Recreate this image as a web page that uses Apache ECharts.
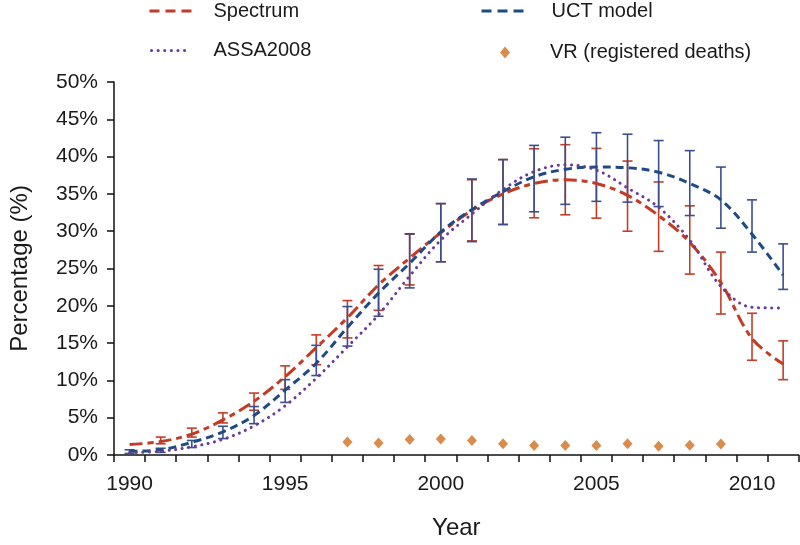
<!DOCTYPE html>
<html>
<head>
<meta charset="utf-8">
<script src="https://cdn.jsdelivr.net/npm/echarts@6/dist/echarts.min.js"></script>
<style>
html,body{margin:0;padding:0;background:#fff;}
#chart{width:800px;height:545px;}
</style>
</head>
<body>
<div id="chart"></div>
<script>
var years = ['1990','1991','1992','1993','1994','1995','1996','1997','1998','1999','2000','2001','2002','2003','2004','2005','2006','2007','2008','2009','2010','2011'];
var spectrum = [1.4, 1.8, 2.8, 4.7, 7.2, 10.5, 14.4, 18.4, 22.8, 26.4, 29.8, 32.8, 35.0, 36.4, 36.9, 36.4, 34.8, 32.1, 28.5, 23.1, 15.6, 12.2];
var uct = [0.5, 0.7, 1.7, 3.1, 5.3, 8.7, 12.3, 17.1, 21.7, 25.7, 29.9, 32.9, 35.3, 37.3, 38.3, 38.6, 38.5, 37.9, 36.4, 34.2, 29.6, 24.1];
var assa = [0.3, 0.5, 1.1, 2.1, 3.9, 6.6, 10.3, 14.5, 18.8, 24.0, 28.8, 32.3, 35.6, 38.0, 38.9, 38.2, 35.8, 33.2, 28.8, 22.6, 19.8, 19.7];
var spectrumLow = [null, 1.5, 2.4, 4.3, 6.0, 8.8, 12.1, 15.7, 19.4, 22.8, 25.9, 28.7, 30.9, 31.8, 32.2, 31.75, 30.0, 27.3, 24.25, 18.9, 12.7, 10.1];
var spectrumHigh = [null, 2.4, 3.6, 5.65, 8.3, 11.95, 16.1, 20.7, 25.4, 29.6, 33.7, 36.9, 39.6, 41.05, 41.6, 41.1, 39.4, 36.6, 33.4, 27.2, 19.0, 15.3];
var uctLow = [0.2, 0.35, 1.0, 2.2, 4.2, 7.05, 10.65, 14.6, 18.6, 22.4, 25.9, 28.6, 30.9, 32.6, 33.6, 34.0, 33.9, 33.3, 32.1, 30.4, 27.2, 22.2];
var uctHigh = [0.7, 0.9, 1.95, 3.85, 6.5, 10.1, 14.7, 19.9, 24.9, 29.65, 33.7, 37.0, 39.6, 41.5, 42.6, 43.2, 43.0, 42.15, 40.8, 38.6, 34.2, 28.3];
var vrYears = ['1997','1998','1999','2000','2001','2002','2003','2004','2005','2006','2007','2008','2009'];
var vr = [1.74, 1.6, 2.09, 2.13, 1.96, 1.52, 1.26, 1.26, 1.26, 1.52, 1.17, 1.3, 1.48];
var yTicks = [0, 5, 10, 15, 20, 25, 30, 35, 40, 45, 50];

var RED = '#c23b22', BLUE = '#1f4b85', PURPLE = '#6a3a95', ORANGE = '#cf6f1f';
var RED_BAR = '#c43d26', BLUE_BAR = '#3b4f8e';
var FONT = 'Liberation Sans';

function errData(lo, hi) {
  var out = [];
  for (var i = 0; i < years.length; i++) {
    if (lo[i] == null || hi[i] == null) continue;
    out.push([years[i], lo[i], hi[i]]);
  }
  return out;
}
function errRender(color) {
  return function (params, api) {
    var x = api.value(0);
    var p1 = api.coord([x, api.value(1)]);
    var p2 = api.coord([x, api.value(2)]);
    var hw = 5;
    var st = { stroke: color, lineWidth: 1.6 };
    return {
      type: 'group',
      children: [
        { type: 'line', shape: { x1: p1[0], y1: p1[1], x2: p2[0], y2: p2[1] }, style: st },
        { type: 'line', shape: { x1: p1[0] - hw, y1: p1[1], x2: p1[0] + hw, y2: p1[1] }, style: st },
        { type: 'line', shape: { x1: p2[0] - hw, y1: p2[1], x2: p2[0] + hw, y2: p2[1] }, style: st }
      ]
    };
  };
}
var vrData = vrYears.map(function (y, i) { return [y, vr[i]]; });

var chart = echarts.init(document.getElementById('chart'), null, { renderer: 'canvas' });
function lt(pad) { return { fontFamily: FONT, fontSize: 20, color: '#1a1a1a', padding: [0, 0, 0, pad] }; }
var hideDot = { opacity: 0 };
chart.setOption({
  animation: false,
  backgroundColor: '#fff',
  textStyle: { fontFamily: FONT },
  grid: { left: 104, right: 1.3, top: 82, bottom: 83, containLabel: false },
  legend: [
    { data: ['Spectrum'], left: 148, top: 1, padding: 0, itemWidth: 44, itemHeight: 16, itemStyle: hideDot,
      lineStyle: { width: 3, type: [10, 6], color: RED }, textStyle: lt(15) },
    { data: ['ASSA2008'], left: 150, top: 40.5, padding: 0, itemWidth: 34, itemHeight: 16, itemStyle: hideDot,
      lineStyle: { width: 3, type: [0.1, 6.5], cap: 'round', color: PURPLE }, textStyle: lt(23) },
    { data: ['UCT model'], left: 480, top: 1, padding: 0, itemWidth: 44, itemHeight: 16, itemStyle: hideDot,
      lineStyle: { width: 3, type: [10, 6], color: BLUE }, textStyle: lt(21) },
    { data: ['VR (registered deaths)'], left: 500, top: 42.5, padding: 0, itemWidth: 10, itemHeight: 12, textStyle: lt(35) }
  ],
  xAxis: {
    type: 'category',
    data: years,
    boundaryGap: true,
    name: 'Year',
    nameLocation: 'middle',
    nameGap: 61,
    nameTextStyle: { fontFamily: FONT, fontSize: 24, color: '#1a1a1a' },
    axisLine: { lineStyle: { color: '#111', width: 1.5 } },
    axisTick: { show: true, interval: 0, alignWithLabel: false, length: 7, lineStyle: { color: '#111', width: 1.5 } },
    axisLabel: {
      interval: function (index) { return index % 5 === 0; },
      fontFamily: FONT, fontSize: 21, color: '#1a1a1a', margin: 19
    },
    splitLine: { show: false }
  },
  yAxis: {
    type: 'value',
    min: yTicks[0],
    max: yTicks[yTicks.length - 1],
    interval: 5,
    name: 'Percentage (%)',
    nameLocation: 'middle',
    nameGap: 82,
    nameRotate: 90,
    nameTextStyle: { fontFamily: FONT, fontSize: 24, color: '#1a1a1a' },
    axisLine: { show: true, lineStyle: { color: '#111', width: 1.5 } },
    axisTick: { show: true, length: 7, lineStyle: { color: '#111', width: 1.5 } },
    axisLabel: { formatter: '{value}%', fontFamily: FONT, fontSize: 21, color: '#1a1a1a', margin: 16 },
    splitLine: { show: false }
  },
  series: [
    { name: 'SpectrumErr', type: 'custom', data: errData(spectrumLow, spectrumHigh), renderItem: errRender(RED_BAR), z: 1, silent: true },
    { name: 'UCTErr', type: 'custom', data: errData(uctLow, uctHigh), renderItem: errRender(BLUE_BAR), z: 1, silent: true },
    { name: 'Spectrum', type: 'line', data: spectrum, smooth: 0.35, symbol: 'none', z: 3,
      itemStyle: { color: RED },
      lineStyle: { color: RED, width: 3, type: [13, 5, 6, 5] } },
    { name: 'UCT model', type: 'line', data: uct, smooth: 0.35, symbol: 'none', z: 3,
      itemStyle: { color: BLUE },
      lineStyle: { color: BLUE, width: 3, type: [8, 5] } },
    { name: 'ASSA2008', type: 'line', data: assa, smooth: 0.35, symbol: 'none', z: 3,
      itemStyle: { color: PURPLE },
      lineStyle: { color: PURPLE, width: 3, type: [0.1, 6.5], cap: 'round' } },
    { name: 'VR (registered deaths)', type: 'scatter', data: vrData, symbol: 'diamond', symbolSize: [10, 11], z: 4,
      itemStyle: { color: ORANGE } }
  ]
});
</script>
</body>
</html>
